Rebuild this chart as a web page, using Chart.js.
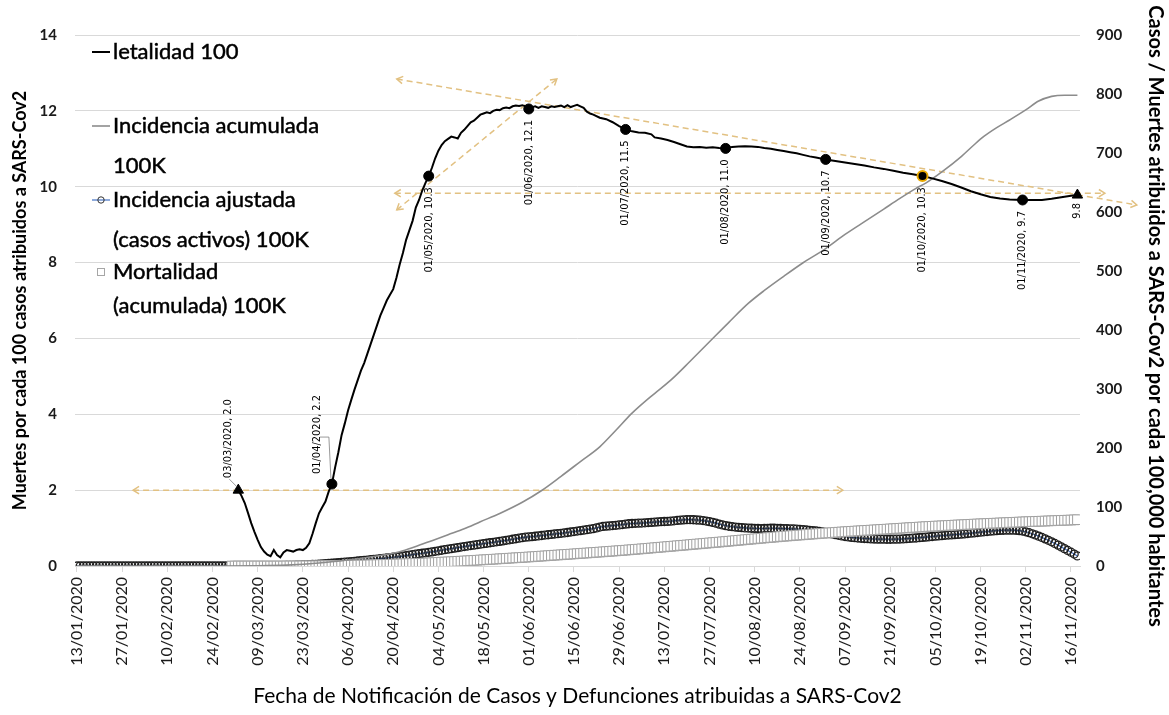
<!DOCTYPE html>
<html lang="es">
<head>
<meta charset="utf-8">
<title>Letalidad, incidencia y mortalidad SARS-Cov2</title>
<script src="https://cdn.jsdelivr.net/npm/chart.js@4.4.1/dist/chart.umd.min.js"></script>
<style>
  html, body { margin: 0; padding: 0; background: #fff; }
  #wrap { position: relative; width: 1169px; height: 715px; }
</style>
</head>
<body>
<div id="wrap"><canvas id="grafica"></canvas></div>
<script>
// Eje X: días desde el 13/01/2020 (día 0)
const xTickDays = [0, 14, 28, 42, 56, 70, 84, 98, 112, 126, 140, 154, 168, 182, 196, 210, 224, 238, 252, 266, 280, 294, 308];
const xTickLabels = ['13/01/2020', '27/01/2020', '10/02/2020', '24/02/2020', '09/03/2020', '23/03/2020', '06/04/2020',
  '20/04/2020', '04/05/2020', '18/05/2020', '01/06/2020', '15/06/2020', '29/06/2020', '13/07/2020', '27/07/2020',
  '10/08/2020', '24/08/2020', '07/09/2020', '21/09/2020', '05/10/2020', '19/10/2020', '02/11/2020', '16/11/2020'];

const seriesNames = ['letalidad 100', 'Incidencia acumulada 100K', 'Incidencia ajustada (casos activos) 100K', 'Mortalidad (acumulada) 100K'];
const legendLines = [['letalidad 100'], ['Incidencia acumulada', '100K'], ['Incidencia ajustada', '(casos activos) 100K'], ['Mortalidad', '(acumulada) 100K']];
const rightTitle = 'Casos / Muertes atribuidos a SARS-Cov2 por cada 100,000 habitantes';

// letalidad por cada 100 casos (eje izquierdo)
const letDays = [50, 51, 52, 53, 54, 55, 56, 57, 58, 59, 60, 61, 62, 63, 64, 65, 66, 67, 68, 69, 70, 71, 72, 73, 74, 75, 76, 77, 78, 79,
  80, 81, 82, 83, 84, 85, 86, 87, 88, 89, 90, 91, 92, 93, 94, 95, 96, 97, 98, 99, 100, 101, 102, 103, 104, 105, 106, 107, 108, 109,
  110, 111, 112, 113, 114, 115, 116, 117, 118, 119, 120, 121, 122, 123, 124, 125, 126, 127, 128, 129, 130, 131, 132, 133, 134, 135,
  136, 137, 138, 139, 140, 141, 142, 143, 144, 145, 146, 147, 148, 149, 150, 151, 152, 153, 154, 155, 156, 157, 158, 159, 160, 162,
  164, 166, 168, 170, 172, 174, 176, 178, 179, 181, 183, 185, 187, 189, 191, 193, 195, 197, 199, 201, 203, 205, 207, 209, 211, 213,
  215, 217, 219, 221, 223, 225, 227, 229, 232, 235, 238, 241, 244, 247, 250, 253, 256, 259, 262, 265, 268, 271, 274, 277, 280, 283,
  286, 289, 293, 296, 299, 302, 305, 308, 310];
const letVals = [2.0, 1.85, 1.66, 1.4, 1.13, 0.9, 0.69, 0.5, 0.38, 0.3, 0.26, 0.42, 0.29, 0.23, 0.36, 0.42, 0.4, 0.38, 0.42, 0.44,
  0.42, 0.48, 0.6, 0.85, 1.13, 1.39, 1.55, 1.7, 1.96, 2.16, 2.6, 3.0, 3.45, 3.76, 4.1, 4.38, 4.65, 4.9, 5.15, 5.35, 5.6, 5.85, 6.1,
  6.35, 6.6, 6.8, 7.0, 7.15, 7.3, 7.6, 7.95, 8.25, 8.6, 8.85, 9.1, 9.45, 9.65, 9.9, 10.1, 10.28, 10.5, 10.75, 10.95, 11.1, 11.2,
  11.26, 11.32, 11.3, 11.27, 11.42, 11.5, 11.6, 11.7, 11.74, 11.82, 11.9, 11.93, 11.96, 11.94, 12.0, 12.03, 12.02, 12.07, 12.09,
  12.07, 12.12, 12.14, 12.13, 12.15, 12.12, 12.05, 12.1, 12.12, 12.08, 12.12, 12.1, 12.08, 12.12, 12.1, 12.12, 12.14, 12.1, 12.15,
  12.1, 12.13, 12.16, 12.12, 12.08, 11.98, 11.93, 11.9, 11.82, 11.78, 11.7, 11.6, 11.51, 11.46, 11.43, 11.42, 11.38, 11.3, 11.27,
  11.23, 11.18, 11.12, 11.06, 11.04, 11.05, 11.03, 11.04, 11.02, 11.01, 11.05, 11.06, 11.07, 11.06, 11.05, 11.02, 11.0, 10.97,
  10.94, 10.91, 10.88, 10.84, 10.8, 10.77, 10.72, 10.68, 10.64, 10.6, 10.56, 10.51, 10.47, 10.42, 10.37, 10.33, 10.28, 10.22,
  10.15, 10.07, 9.98, 9.88, 9.8, 9.73, 9.69, 9.66, 9.65, 9.65, 9.65, 9.68, 9.72, 9.76, 9.78];

// puntos etiquetados de la letalidad
const markDays = [50, 79, 109, 140, 170, 201, 232, 262, 293, 310];
const markVals = [2.0, 2.16, 10.28, 12.05, 11.51, 11.01, 10.72, 10.28, 9.65, 9.78];
const markLabels = ['03/03/2020, 2.0', '01/04/2020, 2.2', '01/05/2020, 10.3', '01/06/2020, 12.1', '01/07/2020, 11.5',
  '01/08/2020, 11.0', '01/09/2020, 10.7', '01/10/2020, 10.3', '01/11/2020, 9.7', '9.8'];

// incidencia acumulada por 100,000 hab. (eje derecho)
const acDays = [0, 45, 55, 65, 75, 85, 92, 100, 105, 110, 115, 120, 125, 131, 138, 144, 150, 156, 162, 167, 172, 178, 184, 190,
  196, 202, 208, 213, 219, 225, 232, 238, 245, 250, 255, 260, 263, 268, 274, 278, 281, 285, 289, 294, 298, 302, 306, 310];
const acVals = [0, 0, 0.3, 1.5, 5, 11, 16, 24, 33, 43, 53, 63, 75, 89, 108, 128, 152, 177, 202, 230, 259, 288, 315, 347,
  380, 413, 445, 467, 491, 514, 538, 562, 587, 605, 623, 640, 649, 668, 694, 714, 728, 743, 756, 773, 788, 796, 798, 798];

// incidencia ajustada (casos activos) por 100,000 hab., diaria desde el día 0
const ajVals = [
  0, 0, 0, 0, 0, 0, 0, 0, 0, 0, 0, 0, 0, 0, 0, 0, 0, 0, 0, 0, 0, 0, 0, 0, 0, 0, 0, 0, 0, 0, 0, 0, 0, 0, 0, 0, 0, 0, 0, 0,
  0, 0, 0, 0, 0, 0, 0, 0,
  0, 0, 0, 0, 0, 0, 0.1, 0.1, 0.1, 0.2, 0.2, 0.3,
  0.3, 0.4, 0.5, 0.6, 0.7, 0.9, 1.0, 1.2, 1.4, 1.6,
  1.8, 2.0, 2.3, 2.6, 2.9, 3.2, 3.5, 3.9, 4.3, 4.7,
  5.1, 5.5, 6.0, 6.5, 7.0, 7.5, 8.0, 8.5, 9.0, 9.5,
  10.0, 10.6, 11.2, 11.8, 12.4, 13.0, 13.6, 14.2, 14.8, 15.4,
  16.0, 16.8, 17.6, 18.4, 19.2, 20.0, 20.8, 21.6, 22.4, 23.2,
  24.0, 24.9, 25.8, 26.7, 27.6, 28.5, 29.4, 30.3, 31.2, 32.1,
  33.0, 33.8, 34.6, 35.4, 36.2, 37.0, 37.8, 38.6, 39.4, 40.2,
  41.0, 41.8, 42.6, 43.5, 44.4, 45.3, 46.2, 47.1, 48.0, 48.8,
  49.2, 49.8, 50.4, 51.0, 51.7, 52.4, 53.0, 53.6, 54.2, 54.8,
  55.4, 56.0, 56.8, 57.6, 58.4, 59.2, 60.0, 60.8, 61.6, 62.4,
  63.2, 64.6, 66.0, 67.0, 67.6, 68.0, 68.5, 69.0, 69.6, 70.2,
  71.0, 71.6, 72.0, 72.4, 72.6, 72.8, 73.2, 73.6, 74.0, 74.4,
  74.8, 75.2, 75.4, 75.6, 76.0, 76.6, 77.2, 77.8, 78.2, 78.5,
  78.6, 78.4, 78.0, 77.6, 77.0, 76.2, 75.2, 74.0, 72.6, 71.0,
  69.6, 68.4, 67.4, 66.6, 66.0, 65.5, 65.0, 64.6, 64.3, 64.0,
  63.8, 63.6, 63.5, 63.6, 63.8, 64.0, 64.0, 63.8, 63.6, 63.4,
  63.2, 63.0, 62.8, 62.5, 62.0, 61.5, 61.0, 60.5, 60.0, 59.4,
  58.8, 58.0, 57.0, 55.8, 54.5, 53.2, 52.0, 51.0, 50.0, 49.2,
  48.5, 48.0, 47.5, 47.0, 46.6, 46.3, 46.0, 45.8, 45.6, 45.5,
  45.4, 45.3, 45.3, 45.4, 45.5, 45.7, 46.0, 46.3, 46.7, 47.1,
  47.5, 48.0, 48.5, 49.0, 49.5, 50.0, 50.5, 51.0, 51.5, 52.0,
  52.4, 52.8, 53.2, 53.6, 54.0, 54.5, 55.0, 55.6, 56.2, 56.8,
  57.4, 58.0, 58.5, 59.0, 59.5, 60.0, 60.4, 60.6, 60.8, 60.8,
  60.7, 60.5, 60.0, 59.2, 58.0, 56.4, 54.6, 52.6, 50.6, 48.4,
  46.0, 43.6, 41.0, 38.2, 35.4, 32.4, 29.4, 26.4, 23.4, 20.2,
  17.0];

// mortalidad acumulada por 100,000 hab., diaria desde el día 48
const moStart = 48;
const moVals = [
  0, 0, 0, 0, 0, 0, 0, 0, 0, 0, 0, 0, 0, 0, 0,
  0, 0, 0.1, 0.1, 0.1, 0.1, 0.1, 0.2, 0.2, 0.2, 0.3, 0.3,
  0.3, 0.4, 0.5, 0.6, 0.7, 0.8, 0.9, 1.0, 1.1, 1.2, 1.3, 1.4, 1.5, 1.6, 1.7,
  1.8, 2.0, 2.2, 2.3, 2.5, 2.7, 2.8, 3.0, 3.2, 3.3,
  3.5, 3.7, 3.9, 4.1, 4.3, 4.5, 4.7, 4.8, 5.0, 5.3,
  5.6, 5.9, 6.2, 6.5, 6.7, 7.0, 7.3, 7.6, 7.9, 8.2,
  8.5, 8.8, 9.2, 9.5, 9.8, 10.2, 10.5, 10.8, 11.2, 11.5,
  11.8, 12.2, 12.5, 12.9, 13.2, 13.6, 13.9, 14.2, 14.6, 14.9, 15.3, 15.6,
  16.0, 16.4, 16.8, 17.1, 17.5, 17.9, 18.3, 18.6,
  19.0, 19.4, 19.8, 20.1, 20.5, 20.9, 21.3, 21.7, 22.0, 22.4,
  22.8, 23.2, 23.6, 24.0, 24.4, 24.8, 25.2, 25.6, 26.0, 26.4,
  26.8, 27.3, 27.7, 28.2, 28.6, 29.1, 29.5,
  30.0, 30.5, 31.0, 31.4, 31.9, 32.4, 32.9, 33.3, 33.8, 34.3, 34.8, 35.2, 35.7,
  36.2, 36.7, 37.2, 37.6, 38.1, 38.6, 39.1, 39.6, 40.0, 40.5,
  41.0, 41.5, 42.0, 42.5, 43.0, 43.5, 44.0, 44.5, 45.0, 45.5, 46.0, 46.5,
  47.0, 47.5, 48.0, 48.4, 48.9, 49.4, 49.9, 50.3,
  50.8, 51.2, 51.6, 52.1, 52.5, 52.9, 53.3, 53.7, 54.2, 54.6,
  55.0, 55.4, 55.8, 56.1, 56.5, 56.9, 57.3, 57.7, 58.1, 58.4,
  58.8, 59.1, 59.5, 59.8, 60.2, 60.5, 60.8, 61.2, 61.5, 61.9,
  62.2, 62.5, 62.9, 63.2, 63.6, 63.9, 64.3, 64.6, 65.0, 65.3, 65.6, 66.0, 66.3, 66.7,
  67.0, 67.3, 67.6, 67.8, 68.1, 68.4, 68.7, 69.0, 69.3, 69.6, 69.8, 70.1, 70.4, 70.7, 71.0, 71.2,
  71.5, 71.7, 72.0, 72.2, 72.5, 72.7, 73.0, 73.2, 73.5, 73.7, 74.0, 74.2, 74.5, 74.7, 75.0,
  75.2, 75.4, 75.6, 75.8, 76.0, 76.2, 76.4, 76.6, 76.9, 77.1, 77.3, 77.5, 77.7, 77.9, 78.2, 78.5];

// flechas de tendencia: [día inicio, valor inicio, día fin, valor fin] en unidades de letalidad
const trendArrows = [
  [17.4, 2.0, 237.3, 2.0],
  [98.5, 9.83, 318.5, 9.83],
  [99.1, 12.84, 328.4, 9.52],
  [99.1, 9.39, 148.7, 12.84]
];

const FONT = 'Lato, Carlito, "Open Sans", sans-serif';
const LABEL_FONT = '"Liberation Sans Narrow", "DejaVu Sans Condensed", "Liberation Sans", sans-serif';
const ARROW_COLOR = '#e2c182';

function drawArrowHead(ctx, x, y, ang) {
  const s = 7;
  ctx.beginPath();
  ctx.moveTo(x + s * Math.cos(ang + 0.55), y + s * Math.sin(ang + 0.55));
  ctx.lineTo(x, y);
  ctx.lineTo(x + s * Math.cos(ang - 0.55), y + s * Math.sin(ang - 0.55));
  ctx.stroke();
}

const extras = {
  id: 'extras',
  beforeDatasetsDraw(chart) {
    const { ctx, scales: { x, y } } = chart;
    ctx.save();
    ctx.strokeStyle = ARROW_COLOR;
    ctx.lineWidth = 1.5;
    trendArrows.forEach(a => {
      const x1 = x.getPixelForValue(a[0]), y1 = y.getPixelForValue(a[1]);
      const x2 = x.getPixelForValue(a[2]), y2 = y.getPixelForValue(a[3]);
      ctx.setLineDash([6, 4]);
      ctx.beginPath();
      ctx.moveTo(x1, y1);
      ctx.lineTo(x2, y2);
      ctx.stroke();
      ctx.setLineDash([]);
      const ang = Math.atan2(y2 - y1, x2 - x1);
      drawArrowHead(ctx, x1, y1, ang);
      drawArrowHead(ctx, x2, y2, ang + Math.PI);
    });
    ctx.restore();
  },
  afterDatasetsDraw(chart) {
    const { ctx, scales: { x, y } } = chart;
    ctx.save();
    ctx.font = '11px ' + LABEL_FONT;
    ctx.fillStyle = '#000';
    ctx.textBaseline = 'middle';
    markDays.forEach((d, i) => {
      const px = x.getPixelForValue(d), py = y.getPixelForValue(markVals[i]);
      ctx.save();
      if (i === 0) {
        // etiqueta arriba con línea guía
        ctx.strokeStyle = '#7f7f7f';
        ctx.lineWidth = 0.8;
        ctx.beginPath(); ctx.moveTo(px - 2, py - 4); ctx.lineTo(px - 9, py - 11); ctx.stroke();
        ctx.translate(px - 10, py - 12);
        ctx.rotate(-Math.PI / 2);
        ctx.textAlign = 'left';
      } else if (i === 1) {
        ctx.strokeStyle = '#7f7f7f';
        ctx.lineWidth = 0.8;
        ctx.beginPath(); ctx.moveTo(px - 12, py - 47); ctx.lineTo(px - 3, py - 47); ctx.lineTo(px - 1, py - 6); ctx.stroke();
        ctx.translate(px - 15, py - 10);
        ctx.rotate(-Math.PI / 2);
        ctx.textAlign = 'left';
      } else {
        ctx.translate(px, py + (i === markDays.length - 1 ? 8 : 11));
        ctx.rotate(-Math.PI / 2);
        ctx.textAlign = 'right';
      }
      ctx.fillText(markLabels[i], 0, 0);
      ctx.restore();
    });
    ctx.restore();
  },
  afterDraw(chart) {
    const { ctx, chartArea } = chart;
    // título del eje derecho (centrado en la altura de la figura)
    ctx.save();
    ctx.font = 'bold 20px ' + FONT;
    ctx.fillStyle = '#000';
    ctx.textAlign = 'center';
    ctx.textBaseline = 'middle';
    ctx.translate(chart.width - 14, 316);
    ctx.rotate(Math.PI / 2);
    ctx.fillText(rightTitle, 0, 0);
    ctx.restore();

    // leyenda dentro del área de la gráfica
    const tops = [17, 91, 165, 237];
    const gaps = [40, 40, 40, 34];
    const sx = 92, tx = 113;
    ctx.save();
    ctx.font = '22px ' + FONT;
    ctx.fillStyle = '#000';
    ctx.strokeStyle = '#000';
    ctx.lineWidth = 0.5;
    ctx.textBaseline = 'middle';
    legendLines.forEach((lines, i) => {
      const ly = chartArea.top + tops[i];
      lines.forEach((t, j) => {
        ctx.fillText(t, tx, ly + j * gaps[i]);
        ctx.strokeText(t, tx, ly + j * gaps[i]);
      });
      ctx.save();
      if (i === 0 || i === 1) {
        ctx.strokeStyle = i === 0 ? '#000' : '#8c8c8c';
        ctx.lineWidth = i === 0 ? 2 : 1.6;
        ctx.beginPath(); ctx.moveTo(sx, ly); ctx.lineTo(sx + 18, ly); ctx.stroke();
      } else if (i === 2) {
        ctx.strokeStyle = '#4472c4';
        ctx.lineWidth = 1.2;
        ctx.beginPath(); ctx.moveTo(sx, ly); ctx.lineTo(sx + 18, ly); ctx.stroke();
        ctx.strokeStyle = '#333';
        ctx.lineWidth = 1;
        ctx.beginPath(); ctx.arc(sx + 9, ly, 3.2, 0, Math.PI * 2); ctx.stroke();
      } else {
        ctx.strokeStyle = '#a6a6a6';
        ctx.lineWidth = 1;
        ctx.fillStyle = '#fff';
        ctx.fillRect(sx + 5.5, ly - 3.5, 7, 7);
        ctx.strokeRect(sx + 5.5, ly - 3.5, 7, 7);
      }
      ctx.restore();
    });
    ctx.restore();
  }
};

const marksStyle = markDays.map((d, i) => (i === 0 || i === markDays.length - 1) ? 'triangle' : 'circle');

new Chart(document.getElementById('grafica'), {
  type: 'line',
  data: {
    datasets: [
      {
        label: 'puntos',
        data: markDays.map((d, i) => ({ x: d, y: markVals[i] })),
        yAxisID: 'y',
        showLine: false,
        clip: false,
        pointStyle: marksStyle,
        pointRadius: markDays.map((d, i) => marksStyle[i] === 'triangle' ? 6 : 5),
        pointBackgroundColor: '#000',
        pointBorderColor: markLabels.map(l => l.startsWith('01/10') ? '#e8a800' : '#000'),
        pointBorderWidth: markLabels.map(l => l.startsWith('01/10') ? 2 : 1)
      },
      {
        label: seriesNames[0],
        data: letDays.map((d, i) => ({ x: d, y: letVals[i] })),
        yAxisID: 'y',
        borderColor: '#000',
        borderWidth: 2,
        pointRadius: 0,
        tension: 0
      },
      {
        label: seriesNames[1],
        data: acDays.map((d, i) => ({ x: d, y: acVals[i] })),
        yAxisID: 'y2',
        borderColor: '#8c8c8c',
        borderWidth: 1.6,
        pointRadius: 0,
        cubicInterpolationMode: 'monotone'
      },
      {
        label: seriesNames[3],
        data: moVals.map((v, i) => ({ x: moStart + i, y: v })),
        yAxisID: 'y2',
        showLine: false,
        pointStyle: 'rect',
        pointRadius: 6.8,
        pointBorderWidth: 1,
        pointBorderColor: '#a0a0a0',
        pointBackgroundColor: '#ffffff'
      },
      {
        label: seriesNames[2],
        data: ajVals.map((v, i) => ({ x: i, y: v })),
        yAxisID: 'y2',
        borderColor: '#4472c4',
        borderWidth: 1.2,
        pointStyle: 'circle',
        pointRadius: 4,
        pointBorderWidth: 1.3,
        pointBorderColor: '#1e1e1e',
        pointBackgroundColor: 'rgba(255,255,255,0)'
      }
    ]
  },
  options: {
    responsive: true,
    maintainAspectRatio: false,
    animation: false,
    layout: { padding: { top: 35, left: 0, right: 0, bottom: 0 } },
    plugins: {
      legend: { display: false },
      tooltip: { enabled: false }
    },
    scales: {
      x: {
        type: 'linear',
        min: -0.6,
        max: 310.8,
        afterBuildTicks: axis => { axis.ticks = xTickDays.map(v => ({ value: v })); },
        afterFit: axis => { axis.height = 149; },
        grid: { drawOnChartArea: false, color: '#d9d9d9', tickLength: 6 },
        border: { color: '#d9d9d9' },
        ticks: {
          autoSkip: false,
          minRotation: 90,
          maxRotation: 90,
          padding: 5,
          color: '#1a1a1a',
          font: { family: FONT, size: 16 },
          callback: (v, i) => xTickLabels[i]
        },
        title: {
          display: true,
          text: 'Fecha de Notificación de Casos y Defunciones atribuidas a SARS-Cov2',
          color: '#000',
          font: { family: FONT, size: 21 },
          padding: { top: 0, bottom: 6 }
        }
      },
      y: {
        position: 'left',
        min: 0,
        max: 14,
        afterFit: axis => { axis.width = 75; },
        grid: { color: '#d9d9d9', drawTicks: false },
        border: { display: false },
        ticks: { stepSize: 2, padding: 18, color: '#1a1a1a', font: { family: FONT, size: 15, weight: 'bold' } },
        title: {
          display: true,
          text: 'Muertes por cada 100 casos atribuidos a SARS-Cov2',
          color: '#000',
          font: { family: FONT, size: 18, weight: 'bold' },
          padding: { top: 9, bottom: 0 }
        }
      },
      y2: {
        position: 'right',
        min: 0,
        max: 900,
        afterFit: axis => { axis.width = 89; },
        grid: { drawOnChartArea: false, drawTicks: false },
        border: { display: false },
        ticks: { stepSize: 100, padding: 16, color: '#1a1a1a', font: { family: FONT, size: 15, weight: 'bold' } },
        title: { display: false }
      }
    }
  },
  plugins: [extras]
});
</script>
</body>
</html>
